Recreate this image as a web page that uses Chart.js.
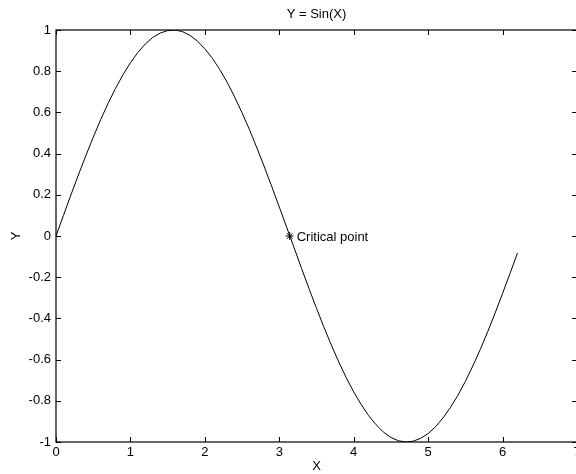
<!DOCTYPE html>
<html>
<head>
<meta charset="utf-8">
<script src="https://cdn.jsdelivr.net/npm/chart.js@4/dist/chart.umd.min.js"></script>
<style>
  html, body { margin: 0; padding: 0; overflow: hidden; background: #fff; }
  #wrap { position: absolute; left: 0; top: 0; width: 600px; height: 474px; }
</style>
</head>
<body>
<div id="wrap"><canvas id="sineChart" width="600" height="474"></canvas></div>
<script>
// sampled curve, X in steps of 0.1
const xValues = [
  0, 0.1, 0.2, 0.3, 0.4, 0.5, 0.6, 0.7, 0.8, 0.9,
  1.0, 1.1, 1.2, 1.3, 1.4, 1.5, 1.6, 1.7, 1.8, 1.9,
  2.0, 2.1, 2.2, 2.3, 2.4, 2.5, 2.6, 2.7, 2.8, 2.9,
  3.0, 3.1, 3.2, 3.3, 3.4, 3.5, 3.6, 3.7, 3.8, 3.9,
  4.0, 4.1, 4.2, 4.3, 4.4, 4.5, 4.6, 4.7, 4.8, 4.9,
  5.0, 5.1, 5.2, 5.3, 5.4, 5.5, 5.6, 5.7, 5.8, 5.9,
  6.0, 6.1, 6.2
];
const yValues = [
  0, 0.100, 0.199, 0.296, 0.389, 0.479, 0.565, 0.644, 0.717, 0.783,
  0.841, 0.891, 0.932, 0.964, 0.985, 0.997, 1.000, 0.992, 0.974, 0.946,
  0.909, 0.863, 0.808, 0.746, 0.675, 0.598, 0.516, 0.427, 0.335, 0.239,
  0.141, 0.042, -0.058, -0.158, -0.256, -0.351, -0.443, -0.530, -0.612, -0.688,
  -0.757, -0.818, -0.872, -0.916, -0.952, -0.978, -0.994, -1.000, -0.996, -0.982,
  -0.959, -0.926, -0.883, -0.832, -0.773, -0.706, -0.631, -0.551, -0.465, -0.374,
  -0.279, -0.182, -0.083
];

// marked point and its label
const criticalX = [3.14];
const criticalY = [0];
const criticalLabel = ["Critical point"];

const xTicks = [0, 1, 2, 3, 4, 5, 6, 7];
const yTicks = [-1, -0.8, -0.6, -0.4, -0.2, 0, 0.2, 0.4, 0.6, 0.8, 1];

const chartTitle = "Y = Sin(X)";
const xTitle = "X";
const yTitle = "Y";

const FONT = "Helvetica, 'Liberation Sans', Arial, sans-serif";
const FONT_SIZE = 13;

// box frame, inward ticks, titles and point label
const framePlugin = {
  id: "frame",
  afterDraw(chart) {
    const ctx = chart.ctx;
    const a = chart.chartArea;
    const xs = chart.scales.x, ys = chart.scales.y;
    ctx.save();
    ctx.strokeStyle = "#000";
    ctx.lineWidth = 1.2;
    ctx.strokeRect(a.left, a.top, a.right - a.left, a.bottom - a.top);

    ctx.lineWidth = 1;
    const len = 5;
    ctx.beginPath();
    xTicks.forEach(v => {
      const px = Math.round(xs.getPixelForValue(v)) + 0.5;
      ctx.moveTo(px, a.bottom); ctx.lineTo(px, a.bottom - len);
      ctx.moveTo(px, a.top); ctx.lineTo(px, a.top + len);
    });
    yTicks.forEach(v => {
      const py = Math.round(ys.getPixelForValue(v)) + 0.5;
      ctx.moveTo(a.left, py); ctx.lineTo(a.left + len, py);
      ctx.moveTo(a.right, py); ctx.lineTo(a.right - len, py);
    });
    ctx.stroke();

    ctx.fillStyle = "#000";
    ctx.font = FONT_SIZE + "px " + FONT;
    ctx.textAlign = "center";
    ctx.textBaseline = "middle";
    ctx.fillText(chartTitle, (a.left + a.right) / 2, 14);
    ctx.fillText(xTitle, (a.left + a.right) / 2, 466);
    ctx.save();
    ctx.translate(16, (a.top + a.bottom) / 2);
    ctx.rotate(-Math.PI / 2);
    ctx.fillText(yTitle, 0, 0);
    ctx.restore();

    ctx.textAlign = "left";
    criticalX.forEach((v, i) => {
      const px = xs.getPixelForValue(v);
      const py = ys.getPixelForValue(criticalY[i]);
      ctx.fillText(criticalLabel[i], px + 7, py + 1);
    });
    ctx.restore();
  }
};

const ctx = document.getElementById("sineChart").getContext("2d");

new Chart(ctx, {
  type: "scatter",
  data: {
    datasets: [
      {
        data: xValues.map((x, i) => ({ x: x, y: yValues[i] })),
        showLine: true,
        borderColor: "#000",
        borderWidth: 1,
        pointRadius: 0,
        tension: 0,
        fill: false
      },
      {
        data: criticalX.map((x, i) => ({ x: x, y: criticalY[i] })),
        showLine: false,
        pointStyle: "star",
        pointRadius: 4,
        borderColor: "#000",
        borderWidth: 1,
        backgroundColor: "#000"
      }
    ]
  },
  plugins: [framePlugin],
  options: {
    responsive: false,
    animation: false,
    layout: { padding: { top: 30, right: 23, left: 0, bottom: 0 } },
    plugins: {
      legend: { display: false },
      tooltip: { enabled: false },
      title: { display: false }
    },
    scales: {
      x: {
        type: "linear",
        min: 0,
        max: 7,
        afterBuildTicks: s => { s.ticks = xTicks.map(v => ({ value: v })); },
        afterFit: s => { s.height = 32; },
        grid: { display: false, drawTicks: false, tickLength: 0 },
        border: { display: false },
        ticks: {
          color: "#000",
          padding: 3,
          autoSkip: false,
          maxRotation: 0,
          font: { family: FONT, size: FONT_SIZE },
          callback: v => String(v)
        }
      },
      y: {
        type: "linear",
        min: -1,
        max: 1,
        afterBuildTicks: s => { s.ticks = yTicks.map(v => ({ value: v })); },
        afterFit: s => { s.width = 56; },
        grid: { display: false, drawTicks: false, tickLength: 0 },
        border: { display: false },
        ticks: {
          color: "#000",
          padding: 5,
          autoSkip: false,
          font: { family: FONT, size: FONT_SIZE },
          callback: v => String(Number(v.toFixed(1)))
        }
      }
    }
  }
});
</script>
</body>
</html>
